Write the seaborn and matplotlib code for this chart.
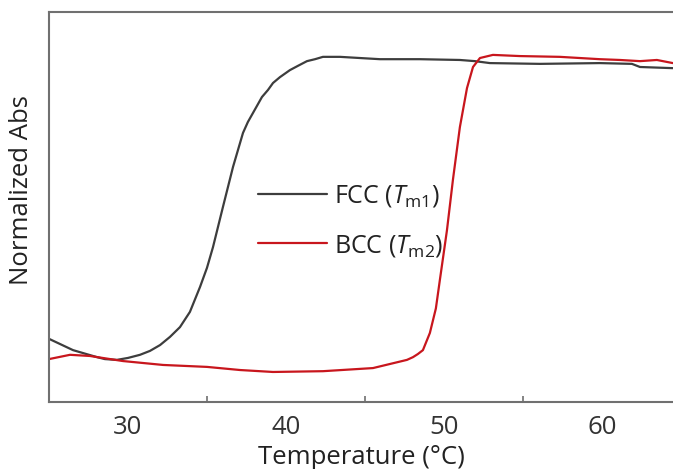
import matplotlib
matplotlib.use("Agg")
import matplotlib.pyplot as plt
import seaborn as sns
import pandas as pd

# Melting curves (temperature in °C, normalized absorbance)
fcc_temp = [25.0, 26.52, 28.04, 28.54, 29.30, 30.00, 30.76, 31.39, 32.03, 32.66,
            33.29, 33.92, 34.56, 35.00, 35.38, 36.01, 36.65, 37.28, 37.59, 37.91,
            38.23, 38.48, 38.86, 39.18, 39.62, 40.25, 40.76, 41.33, 41.84, 42.34,
            43.42, 44.68, 45.95, 48.48, 51.01, 51.96, 52.91, 56.08, 59.87, 61.90,
            62.41, 64.49]
fcc_abs = [0.162, 0.133, 0.115, 0.110, 0.108, 0.113, 0.121, 0.131, 0.146, 0.167,
           0.192, 0.231, 0.295, 0.344, 0.397, 0.500, 0.603, 0.690, 0.718, 0.741,
           0.764, 0.782, 0.800, 0.818, 0.833, 0.851, 0.862, 0.874, 0.879, 0.885,
           0.885, 0.882, 0.879, 0.879, 0.877, 0.874, 0.869, 0.867, 0.869, 0.867,
           0.859, 0.856]

bcc_temp = [25.0, 26.33, 27.59, 29.68, 32.22, 35.0, 37.09, 39.18, 42.34, 45.51,
            47.66, 48.04, 48.35, 48.67, 48.80, 49.11, 49.49, 49.75, 50.19, 50.57,
            51.01, 51.46, 51.84, 52.28, 53.10, 54.81, 57.34, 59.87, 61.14, 62.41,
            63.48, 64.49]
bcc_abs = [0.110, 0.121, 0.118, 0.105, 0.095, 0.090, 0.082, 0.077, 0.079, 0.087,
           0.108, 0.115, 0.123, 0.133, 0.146, 0.177, 0.240, 0.315, 0.440, 0.570,
           0.705, 0.805, 0.859, 0.882, 0.890, 0.887, 0.885, 0.879, 0.877, 0.874,
           0.877, 0.869]

series_labels = [r"FCC ($T_{\mathrm{m1}}$)", r"BCC ($T_{\mathrm{m2}}$)"]
x_ticks = [30, 40, 50, 60]

df = pd.concat([
    pd.DataFrame({"Temperature": fcc_temp, "Abs": fcc_abs, "sample": series_labels[0]}),
    pd.DataFrame({"Temperature": bcc_temp, "Abs": bcc_abs, "sample": series_labels[1]}),
], ignore_index=True)

sns.set_theme(style="white")
plt.rcParams["font.family"] = ["Open Sans", "DejaVu Sans"]
plt.rcParams["mathtext.fontset"] = "custom"
plt.rcParams["mathtext.rm"] = "Open Sans"
plt.rcParams["mathtext.it"] = "Open Sans:italic"

fig = plt.figure(figsize=(6.73, 4.69), dpi=100)
ax = fig.add_axes([49 / 673, 67 / 469, 624 / 673, 390 / 469])

sns.lineplot(data=df, x="Temperature", y="Abs", hue="sample",
             palette=["#3d3d3d", "#c8161d"], linewidth=1.6, ax=ax,
             estimator=None, sort=False)

ax.set_xlim(25, 64.5)
ax.set_ylim(0, 1)
ax.set_xticks(x_ticks)
ax.set_xticks([35, 45, 55], minor=True)
ax.set_yticks([])
ax.tick_params(axis="x", which="major", direction="in", length=8, width=1.2,
               color="#707070", labelsize=18.5, labelcolor="#333333", pad=9)
ax.tick_params(axis="x", which="minor", direction="in", length=4, width=1.2,
               color="#707070", bottom=True)
for side in ["left", "bottom", "top"]:
    ax.spines[side].set_color("#707070")
    ax.spines[side].set_linewidth(1.5)
ax.spines["right"].set_visible(False)

ax.set_xlabel("Temperature (°C)", fontsize=18.5, color="#222222", labelpad=4)
ax.set_ylabel("Normalized Abs", fontsize=18.5, color="#222222")
ax.yaxis.set_label_coords(-0.024, 0.544)

ax.legend(loc="center left", bbox_to_anchor=(0.335, 0.465), frameon=False,
          fontsize=18, handlelength=2.75, handletextpad=0.3, labelspacing=0.95,
          borderpad=0, borderaxespad=0, title=None, labelcolor="#222222")

fig.savefig("out.png", dpi=100)
